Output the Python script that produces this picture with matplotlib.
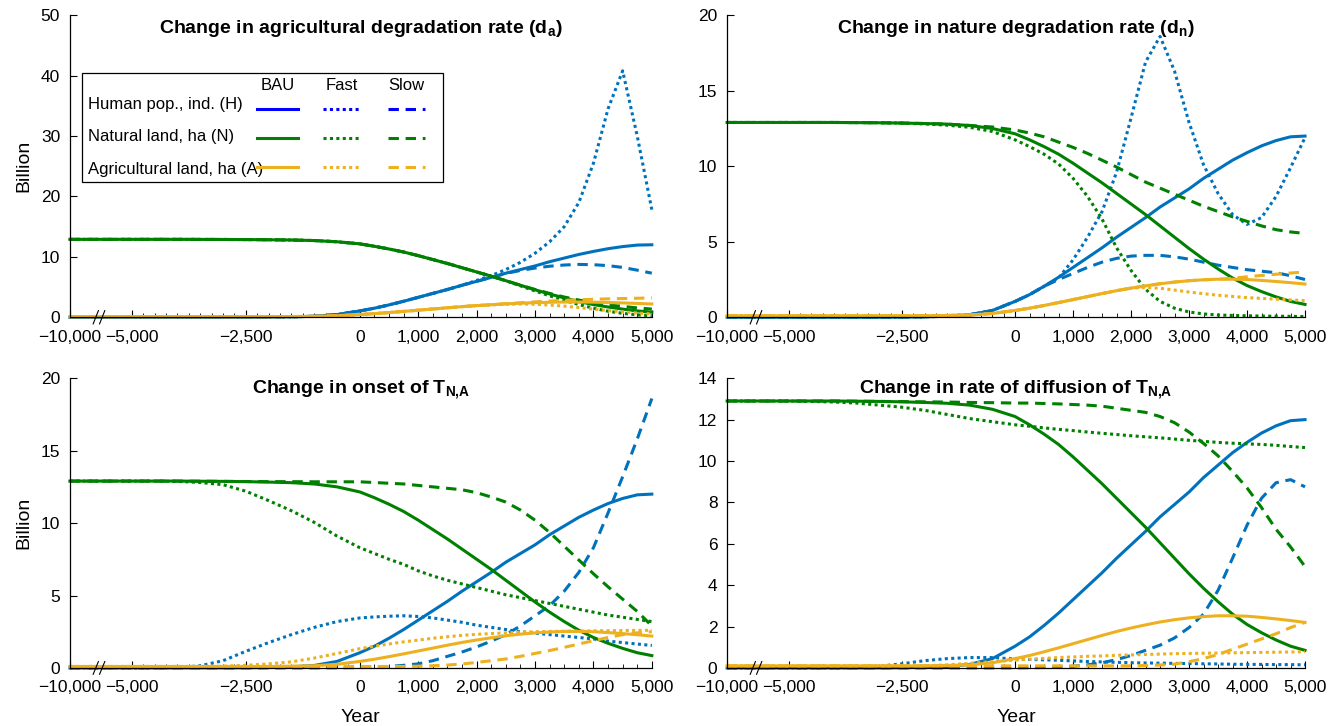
"""Four-panel scenario plot: H, N, A trajectories for BAU / Fast / Slow."""

import numpy as np
import matplotlib

matplotlib.use("Agg")

import matplotlib.pyplot as plt
from matplotlib import font_manager
from matplotlib.patches import Rectangle
from matplotlib.ticker import FixedLocator, FuncFormatter

_names = {f.name for f in font_manager.fontManager.ttflist}
HAS_NARROW = "Liberation Sans Narrow" in _names
NARROW = "Liberation Sans Narrow" if HAS_NARROW else "Liberation Sans"
TITLE_SIZE = 15.5 if HAS_NARROW else 14

plt.rcParams["font.family"] = ["Liberation Sans", "DejaVu Sans"]
plt.rcParams["mathtext.fontset"] = "custom"
plt.rcParams["mathtext.rm"] = NARROW
plt.rcParams["mathtext.bf"] = f"{NARROW}:bold"

# ---------------------------------------------------------------- data
YEARS = [-10000, -5000, -4500, -4000, -3500, -3000, -2500, -2000, -1500, -1000, -500, 0,
         250, 500, 750, 1000, 1250, 1500, 1750, 2000, 2250, 2500, 2750, 3000,
         3250, 3500, 3750, 4000, 4250, 4500, 4750, 5000]

# business as usual (identical in every panel)
BAU_H = [0, 0, 0, 0, 0, 0, 0.01, 0.03, 0.07, 0.17, 0.45, 1.05,
         1.5, 2.05, 2.65, 3.3, 3.95, 4.6, 5.3, 5.95, 6.6, 7.3, 7.9, 8.5,
         9.2, 9.8, 10.4, 10.9, 11.35, 11.7, 11.95, 12.0]
BAU_N = [12.9, 12.9, 12.9, 12.9, 12.89, 12.88, 12.86, 12.83, 12.79, 12.7, 12.5, 12.15,
         11.75, 11.3, 10.8, 10.2, 9.55, 8.9, 8.2, 7.5, 6.8, 6.05, 5.3, 4.55,
         3.85, 3.2, 2.6, 2.1, 1.7, 1.35, 1.05, 0.85]
BAU_A = [0.1, 0.1, 0.1, 0.1, 0.1, 0.1, 0.1, 0.1, 0.12, 0.15, 0.25, 0.45,
         0.6, 0.78, 0.97, 1.17, 1.37, 1.57, 1.76, 1.93, 2.08, 2.22, 2.33, 2.42,
         2.48, 2.52, 2.52, 2.5, 2.44, 2.37, 2.29, 2.2]

# change in agricultural degradation rate
DA_H_FAST = [0, 0, 0, 0, 0, 0, 0.01, 0.03, 0.07, 0.17, 0.45, 1.05,
             1.5, 2.05, 2.65, 3.3, 3.95, 4.6, 5.3, 6.1, 6.9, 7.9, 9.1, 10.6,
             12.5, 15.0, 19.0, 25.5, 34.5, 40.8, 30.0, 17.8]
DA_H_SLOW = [0, 0, 0, 0, 0, 0, 0.01, 0.03, 0.07, 0.17, 0.45, 1.05,
             1.5, 2.05, 2.65, 3.3, 3.95, 4.6, 5.3, 5.95, 6.6, 7.25, 7.75, 8.15,
             8.45, 8.65, 8.75, 8.7, 8.55, 8.25, 7.8, 7.3]
DA_N_FAST = [12.9, 12.9, 12.9, 12.9, 12.89, 12.88, 12.86, 12.83, 12.79, 12.7, 12.5, 12.15,
             11.75, 11.3, 10.8, 10.2, 9.55, 8.9, 8.2, 7.5, 6.8, 6.05, 5.2, 4.35,
             3.55, 2.8, 2.1, 1.5, 1.0, 0.65, 0.4, 0.25]
DA_N_SLOW = [12.9, 12.9, 12.9, 12.9, 12.89, 12.88, 12.86, 12.83, 12.79, 12.7, 12.5, 12.15,
             11.75, 11.3, 10.8, 10.2, 9.55, 8.9, 8.2, 7.5, 6.8, 6.05, 5.3, 4.6,
             3.95, 3.35, 2.85, 2.4, 2.05, 1.8, 1.55, 1.35]
DA_A_FAST = [0.1, 0.1, 0.1, 0.1, 0.1, 0.1, 0.1, 0.1, 0.12, 0.15, 0.25, 0.45,
             0.6, 0.78, 0.97, 1.17, 1.37, 1.57, 1.76, 1.93, 2.05, 2.15, 2.2, 2.15,
             2.02, 1.85, 1.6, 1.35, 1.1, 0.9, 0.7, 0.55]
DA_A_SLOW = [0.1, 0.1, 0.1, 0.1, 0.1, 0.1, 0.1, 0.1, 0.12, 0.15, 0.25, 0.45,
             0.6, 0.78, 0.97, 1.17, 1.37, 1.57, 1.76, 1.93, 2.08, 2.25, 2.4, 2.55,
             2.68, 2.8, 2.9, 2.98, 3.05, 3.1, 3.15, 3.2]

# change in nature degradation rate
DN_H_FAST = [0, 0, 0, 0, 0, 0, 0.01, 0.03, 0.07, 0.17, 0.45, 1.05,
             1.5, 2.05, 2.6, 3.8, 5.3, 7.0, 9.6, 13.2, 16.9, 18.6, 16.3, 12.9,
             10.1, 8.2, 6.8, 6.15, 6.6, 8.0, 9.9, 11.9]
DN_H_SLOW = [0, 0, 0, 0, 0, 0, 0.01, 0.03, 0.07, 0.17, 0.45, 1.05,
             1.5, 2.05, 2.5, 2.9, 3.3, 3.65, 3.9, 4.05, 4.1, 4.1, 4.0, 3.85,
             3.65, 3.45, 3.3, 3.15, 3.05, 2.95, 2.75, 2.5]
DN_N_FAST = [12.9, 12.9, 12.9, 12.9, 12.89, 12.88, 12.86, 12.8, 12.72, 12.58, 12.3, 11.75,
             11.3, 10.8, 10.15, 9.2, 8.0, 6.5, 4.6, 3.1, 1.85, 1.05, 0.6, 0.35,
             0.22, 0.15, 0.12, 0.1, 0.08, 0.07, 0.06, 0.05]
DN_N_SLOW = [12.9, 12.9, 12.9, 12.9, 12.89, 12.88, 12.86, 12.83, 12.79, 12.7, 12.6, 12.4,
             12.2, 11.95, 11.6, 11.25, 10.85, 10.4, 9.95, 9.45, 8.95, 8.55, 8.15, 7.75,
             7.35, 7.0, 6.65, 6.35, 6.05, 5.8, 5.65, 5.55]
DN_A_FAST = [0.1, 0.1, 0.1, 0.1, 0.1, 0.1, 0.1, 0.1, 0.12, 0.15, 0.25, 0.45,
             0.6, 0.78, 0.97, 1.17, 1.37, 1.57, 1.76, 1.93, 1.97, 1.92, 1.8, 1.67,
             1.56, 1.46, 1.38, 1.3, 1.25, 1.2, 1.15, 1.1]
DN_A_SLOW = [0.1, 0.1, 0.1, 0.1, 0.1, 0.1, 0.1, 0.1, 0.12, 0.15, 0.25, 0.45,
             0.6, 0.78, 0.97, 1.17, 1.37, 1.57, 1.76, 1.93, 2.08, 2.22, 2.33, 2.42,
             2.48, 2.52, 2.58, 2.68, 2.77, 2.85, 2.93, 3.0]

# change in onset of T_N,A
ON_H_FAST = [0, 0, 0, 0.02, 0.15, 0.5, 1.15, 1.75, 2.3, 2.8, 3.2, 3.45,
             3.52, 3.57, 3.6, 3.55, 3.45, 3.3, 3.15, 2.95, 2.8, 2.65, 2.5, 2.4,
             2.3, 2.2, 2.1, 2.0, 1.85, 1.75, 1.65, 1.55]
ON_H_SLOW = [0, 0, 0, 0, 0, 0, 0, 0, 0, 0, 0.01, 0.02,
             0.05, 0.1, 0.18, 0.28, 0.5, 0.8, 1.1, 1.45, 1.85, 2.3, 2.9, 3.6,
             4.3, 5.3, 6.6, 8.3, 10.7, 13.2, 15.8, 18.6]
ON_N_FAST = [12.9, 12.9, 12.9, 12.88, 12.8, 12.65, 12.2, 11.55, 10.85, 10.05, 9.1, 8.3,
             7.9, 7.5, 7.15, 6.7, 6.35, 6.05, 5.8, 5.55, 5.3, 5.05, 4.85, 4.65,
             4.45, 4.25, 4.05, 3.85, 3.65, 3.5, 3.35, 3.2]
ON_N_SLOW = [12.9, 12.9, 12.9, 12.9, 12.89, 12.88, 12.87, 12.86, 12.86, 12.85, 12.85, 12.85,
             12.8, 12.75, 12.7, 12.6, 12.5, 12.4, 12.3, 12.1, 11.8, 11.45, 10.9, 10.2,
             9.35, 8.4, 7.45, 6.5, 5.6, 4.75, 3.9, 2.9]
ON_A_FAST = [0.1, 0.1, 0.1, 0.1, 0.1, 0.12, 0.18, 0.28, 0.42, 0.68, 1.0, 1.33,
             1.5, 1.65, 1.8, 1.92, 2.05, 2.15, 2.25, 2.32, 2.37, 2.42, 2.47, 2.5,
             2.52, 2.53, 2.55, 2.56, 2.57, 2.58, 2.59, 2.6]
ON_A_SLOW = [0.1, 0.1, 0.1, 0.1, 0.1, 0.1, 0.1, 0.1, 0.1, 0.1, 0.1, 0.1,
             0.1, 0.1, 0.1, 0.12, 0.15, 0.2, 0.27, 0.38, 0.5, 0.62, 0.8, 1.0,
             1.2, 1.42, 1.65, 1.88, 2.1, 2.3, 2.42, 2.5]

# change in rate of diffusion of T_N,A
DF_H_FAST = [0, 0, 0, 0, 0.02, 0.08, 0.2, 0.35, 0.45, 0.5, 0.5, 0.43,
             0.41, 0.39, 0.37, 0.34, 0.31, 0.29, 0.27, 0.25, 0.24, 0.23, 0.22, 0.21,
             0.2, 0.19, 0.18, 0.17, 0.17, 0.16, 0.16, 0.15]
DF_H_SLOW = [0, 0, 0, 0, 0, 0, 0, 0, 0, 0, 0, 0,
             0.01, 0.02, 0.04, 0.08, 0.15, 0.25, 0.4, 0.6, 0.85, 1.1, 1.45, 1.95,
             2.6, 3.75, 5.3, 6.9, 8.2, 8.95, 9.1, 8.75]
DF_N_FAST = [12.9, 12.9, 12.88, 12.85, 12.8, 12.7, 12.6, 12.45, 12.25, 12.05, 11.9, 11.75,
             11.68, 11.6, 11.53, 11.47, 11.4, 11.34, 11.28, 11.22, 11.17, 11.12, 11.06, 11.0,
             10.95, 10.9, 10.86, 10.83, 10.8, 10.76, 10.7, 10.65]
DF_N_SLOW = [12.9, 12.9, 12.9, 12.9, 12.89, 12.88, 12.87, 12.86, 12.85, 12.83, 12.82, 12.8,
             12.8, 12.78, 12.76, 12.73, 12.7, 12.65, 12.55, 12.45, 12.35, 12.15, 11.85, 11.4,
             10.85, 10.25, 9.5, 8.7, 7.75, 6.7, 5.85, 4.9]
DF_A_FAST = [0.1, 0.1, 0.1, 0.1, 0.1, 0.1, 0.1, 0.1, 0.15, 0.22, 0.3, 0.38,
             0.42, 0.46, 0.5, 0.53, 0.56, 0.58, 0.61, 0.63, 0.65, 0.67, 0.69, 0.7,
             0.71, 0.72, 0.73, 0.74, 0.75, 0.76, 0.77, 0.78]
DF_A_SLOW = [0.1, 0.1, 0.1, 0.1, 0.1, 0.1, 0.1, 0.1, 0.1, 0.1, 0.1, 0.1,
             0.1, 0.1, 0.1, 0.1, 0.1, 0.1, 0.1, 0.1, 0.12, 0.14, 0.18, 0.3,
             0.45, 0.65, 0.9, 1.15, 1.4, 1.65, 1.95, 2.2]

PANEL_TITLES = [
    r"Change in agricultural degradation rate (d$_{\mathbf{a}}$)",
    r"Change in nature degradation rate (d$_{\mathbf{n}}$)",
    r"Change in onset of T$_{\mathbf{N{,}A}}$",
    r"Change in rate of diffusion of T$_{\mathbf{N{,}A}}$",
]
PANEL_YMAX = [50, 20, 20, 14]
PANEL_YSTEP = [10, 5, 5, 2]
PANEL_SERIES = [
    (DA_H_FAST, DA_H_SLOW, DA_N_FAST, DA_N_SLOW, DA_A_FAST, DA_A_SLOW),
    (DN_H_FAST, DN_H_SLOW, DN_N_FAST, DN_N_SLOW, DN_A_FAST, DN_A_SLOW),
    (ON_H_FAST, ON_H_SLOW, ON_N_FAST, ON_N_SLOW, ON_A_FAST, ON_A_SLOW),
    (DF_H_FAST, DF_H_SLOW, DF_N_FAST, DF_N_SLOW, DF_A_FAST, DF_A_SLOW),
]
X_TICKS = [-10000, -5000, -2500, 0, 1000, 2000, 3000, 4000, 5000]
X_MINOR = list(range(-5000, 5001, 250))

LEGEND_ROWS = ["Human pop., ind. (H)", "Natural land, ha (N)", "Agricultural land, ha (A)"]
LEGEND_COLS = ["BAU", "Fast", "Slow"]

# ---------------------------------------------------------------- style
C_H = "#0072BD"
C_N = "#008000"
C_A = "#EDB120"
LEGEND_COLORS = ["#0000FF", C_N, C_A]
LW = 2.2
STYLES = ["-", (0, (1, 1.1)), (0, (3.4, 2.2))]


# broken time axis: -10000..-5000 squeezed, -5000..0 and 0..5000 linear
def year_to_pos(x):
    x = np.asarray(x, dtype=float)
    return np.where(x < -5000, (x + 10000) * 62 / 5000,
                    np.where(x < 0, 62 + (x + 5000) * 228 / 5000, 290 + x * 292 / 5000))


def pos_to_year(p):
    p = np.asarray(p, dtype=float)
    return np.where(p < 62, p * 5000 / 62 - 10000,
                    np.where(p < 290, (p - 62) * 5000 / 228 - 5000, (p - 290) * 5000 / 292))


def fmt_year(v, _pos):
    return f"{v:,.0f}".replace("-", "\u2212")


def draw_legend(ax):
    ax.add_patch(Rectangle((0.021, 0.449), 0.62, 0.36, transform=ax.transAxes,
                           facecolor="white", edgecolor="black", lw=0.9, zorder=5))
    col_x = [(0.321, 0.392), (0.435, 0.498), (0.546, 0.610)]
    row_y = [0.706, 0.597, 0.488]
    line_y = [0.690, 0.594, 0.497]
    for (x0, x1), label in zip(col_x, LEGEND_COLS):
        ax.text((x0 + x1) / 2, 0.769, label, transform=ax.transAxes, ha="center", va="center",
                fontsize=12, family=NARROW, zorder=6)
    for ry, ly, label, color in zip(row_y, line_y, LEGEND_ROWS, LEGEND_COLORS):
        ax.text(0.031, ry, label, transform=ax.transAxes, ha="left", va="center",
                fontsize=12, family=NARROW, zorder=6)
        for (x0, x1), ls in zip(col_x, STYLES):
            ax.plot([x0, x1], [ly, ly], transform=ax.transAxes, color=color, lw=LW,
                    linestyle=ls, zorder=6)


fig = plt.figure(figsize=(13.44, 7.26), dpi=100)
rects = [
    [0.052, 0.563, 0.433, 0.416],
    [0.541, 0.563, 0.430, 0.416],
    [0.052, 0.080, 0.433, 0.399],
    [0.541, 0.080, 0.430, 0.399],
]

for i, rect in enumerate(rects):
    ax = fig.add_axes(rect)
    ax.set_xscale("function", functions=(year_to_pos, pos_to_year))
    h_fast, h_slow, n_fast, n_slow, a_fast, a_slow = PANEL_SERIES[i]

    for color, series in ((C_H, (BAU_H, h_fast, h_slow)),
                          (C_N, (BAU_N, n_fast, n_slow)),
                          (C_A, (BAU_A, a_fast, a_slow))):
        for values, ls in zip(series, STYLES):
            ax.plot(YEARS, values, color=color, lw=LW, linestyle=ls, clip_on=False)

    ax.set_xlim(-10000, 5000)
    ax.set_ylim(0, PANEL_YMAX[i])
    ax.xaxis.set_major_locator(FixedLocator(X_TICKS))
    ax.xaxis.set_minor_locator(FixedLocator(X_MINOR))
    ax.xaxis.set_major_formatter(FuncFormatter(fmt_year))
    ax.set_yticks(np.arange(0, PANEL_YMAX[i] + 1, PANEL_YSTEP[i]))
    ax.tick_params(axis="both", which="major", direction="in", length=5, width=0.8,
                   labelsize=12.5)
    ax.tick_params(axis="x", which="major", pad=9)
    ax.tick_params(axis="y", which="major", pad=7)
    ax.tick_params(axis="x", which="minor", direction="in", length=3, width=0.6)
    for side in ("top", "right"):
        ax.spines[side].set_visible(False)
    for side in ("left", "bottom"):
        ax.spines[side].set_linewidth(0.9)

    ax.set_title(PANEL_TITLES[i], fontsize=TITLE_SIZE, fontweight="bold", family=NARROW,
                 y=0.93, va="center")

    # axis break marks
    for dx in (0.0, 0.011):
        ax.plot([0.040 + dx, 0.049 + dx], [-0.022, 0.022], transform=ax.transAxes,
                color="black", lw=0.8, clip_on=False, zorder=7)

    if i % 2 == 0:
        ax.set_ylabel("Billion", fontsize=14, labelpad=6)
    if i >= 2:
        ax.set_xlabel("Year", fontsize=14, labelpad=10)
    if i == 0:
        draw_legend(ax)

fig.savefig("out.png", dpi=100)
